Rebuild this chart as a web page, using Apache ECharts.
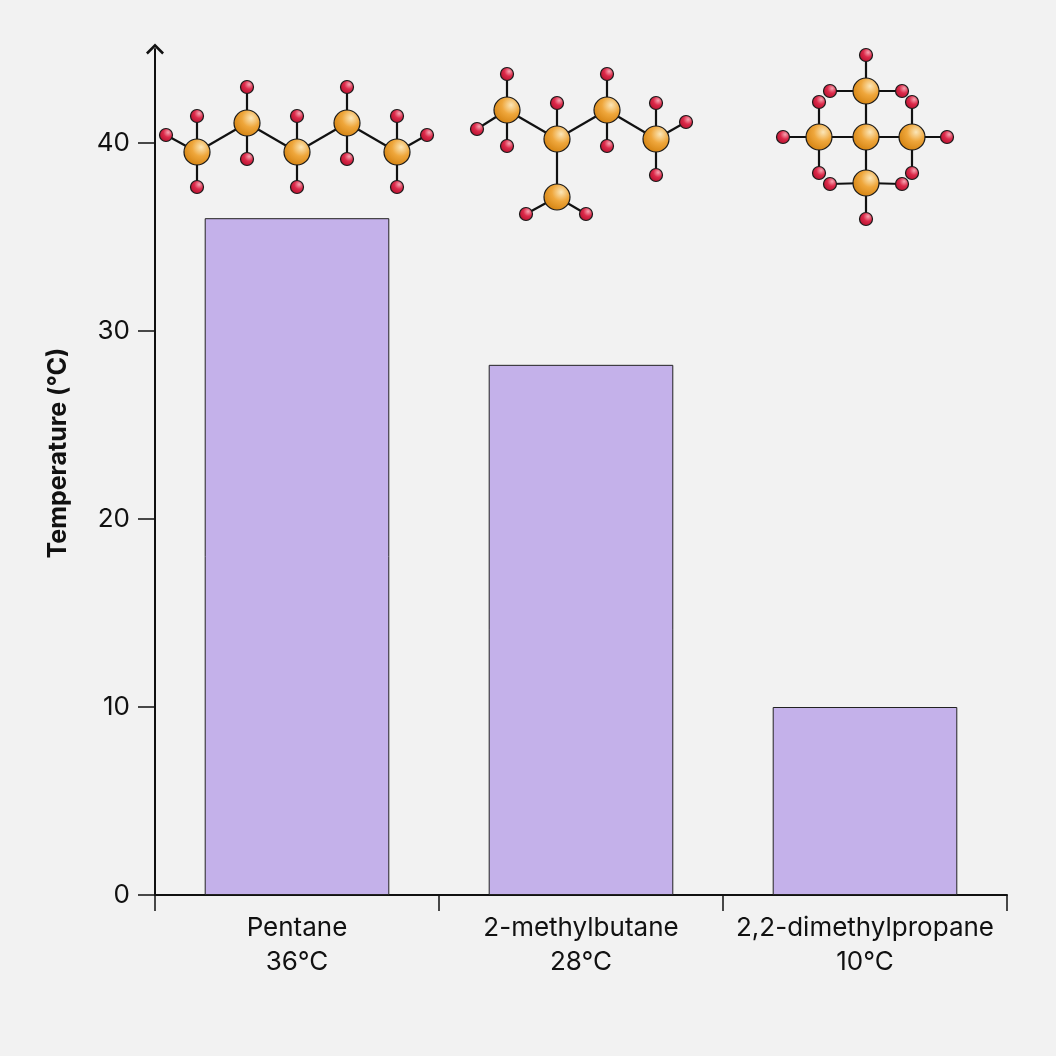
<!DOCTYPE html>
<html>
<head>
<meta charset="utf-8">
<script src="https://cdn.jsdelivr.net/npm/echarts@6/dist/echarts.min.js"></script>
<style>
  html, body { margin: 0; padding: 0; background: #f2f2f2; }
  #chart { width: 1056px; height: 1056px; }
</style>
</head>
<body>
<div id="chart"></div>
<script>
// boiling points of the C5H12 isomers
const compounds = ['Pentane', '2-methylbutane', '2,2-dimethylpropane'];
const boilingPoints = [36, 28.2, 10];
const boilingLabels = ['36°C', '28°C', '10°C'];
const yTicks = [0, 10, 20, 30, 40];

// ball-and-stick drawings, offsets in px from the category centre at y = 40
const moleculeAnchor = 40;
const moleculeCarbons = [
    [[-100, 9], [-50, -20], [0, 9], [50, -20], [100, 9]],
    [[-74, -33], [-24, -4], [26, -33], [75, -4], [-24, 54]],
    [[1, -6], [1, -52], [-46, -6], [47, -6], [1, 40]]
];
const moleculeCarbonBonds = [
    [[0, 1], [1, 2], [2, 3], [3, 4]],
    [[0, 1], [1, 2], [2, 3], [1, 4]],
    [[0, 1], [0, 2], [0, 3], [0, 4]]
];
// [dx, dy, carbon it is bonded to]
const moleculeHydrogens = [
    [[-131, -8, 0], [-100, -27, 0], [-100, 44, 0], [-50, -56, 1], [-50, 16, 1], [0, -27, 2],
     [0, 44, 2], [50, -56, 3], [50, 16, 3], [100, -27, 4], [100, 44, 4], [130, -8, 4]],
    [[-74, -69, 0], [-104, -14, 0], [-74, 3, 0], [-24, -40, 1], [26, -69, 2], [26, 3, 2],
     [75, -40, 3], [105, -21, 3], [75, 32, 3], [-55, 71, 4], [5, 71, 4]],
    [[1, -88, 1], [-35, -52, 1], [37, -52, 1], [-46, -41, 2], [-82, -6, 2], [-46, 30, 2],
     [47, -41, 3], [82, -6, 3], [47, 30, 3], [-35, 41, 4], [37, 41, 4], [1, 76, 4]]
];

const FONT = 'Inter';

const chart = echarts.init(document.getElementById('chart'));

function ball(x, y, r, light, mid, dark) {
    return {
        type: 'circle',
        shape: { cx: x, cy: y, r: r },
        style: {
            fill: new echarts.graphic.RadialGradient(0.65, 0.32, 0.75, [
                { offset: 0, color: light },
                { offset: 0.45, color: mid },
                { offset: 1, color: dark }
            ]),
            stroke: '#1a1a1a',
            lineWidth: 1.2
        }
    };
}

function renderMolecule(params, api) {
    const i = params.dataIndex;
    const p = api.coord([api.value(0), api.value(1)]);
    const carbons = moleculeCarbons[i].map(c => [p[0] + c[0], p[1] + c[1]]);
    const hydrogens = moleculeHydrogens[i].map(h => [p[0] + h[0], p[1] + h[1], h[2]]);
    const children = [];
    const bondStyle = { stroke: '#111', lineWidth: 2.2 };

    moleculeCarbonBonds[i].forEach(b => {
        children.push({
            type: 'line',
            shape: { x1: carbons[b[0]][0], y1: carbons[b[0]][1], x2: carbons[b[1]][0], y2: carbons[b[1]][1] },
            style: bondStyle
        });
    });
    hydrogens.forEach(h => {
        const c = carbons[h[2]];
        children.push({
            type: 'line',
            shape: { x1: h[0], y1: h[1], x2: c[0], y2: c[1] },
            style: bondStyle
        });
    });
    hydrogens.forEach(h => {
        children.push(ball(h[0], h[1], 6.5, '#f6a3b0', '#dc2a4a', '#b00f2c'));
    });
    carbons.forEach(c => {
        children.push(ball(c[0], c[1], 13, '#fbe6b8', '#efa73c', '#d2800e'));
    });
    return { type: 'group', children: children };
}

chart.setOption({
    backgroundColor: '#f2f2f2',
    animation: false,
    grid: { left: 155, right: 49, top: 49, bottom: 161 },
    xAxis: {
        type: 'category',
        data: compounds.map((c, i) => c + '\n' + boilingLabels[i]),
        axisLine: { lineStyle: { color: '#111', width: 2 } },
        axisTick: { show: true, length: 16, lineStyle: { color: '#111', width: 1.5 } },
        axisLabel: {
            interval: 0,
            color: '#111',
            fontFamily: FONT,
            fontSize: 26,
            lineHeight: 34,
            margin: 16
        }
    },
    yAxis: {
        type: 'value',
        min: 0,
        max: 45,
        interval: 10,
        name: 'Temperature (°C)',
        nameLocation: 'middle',
        nameGap: 84,
        nameTextStyle: {
            color: '#111',
            fontFamily: FONT,
            fontSize: 25,
            fontWeight: 'bold',
            padding: [0, 0, 0, 38]
        },
        splitLine: { show: false },
        axisLine: {
            show: true,
            symbol: ['none', 'path://M0,10 L10,0 L20,10 L18,12 L10,4 L2,12 Z'],
            symbolSize: [18, 11],
            lineStyle: { color: '#111', width: 2 }
        },
        axisTick: {
            show: true,
            length: 17,
            customValues: yTicks,
            lineStyle: { color: '#111', width: 1.5 }
        },
        axisLabel: {
            color: '#111',
            fontFamily: FONT,
            fontSize: 26,
            margin: 25,
            customValues: yTicks
        }
    },
    series: [
        {
            type: 'bar',
            data: boilingPoints,
            barWidth: '65%',
            itemStyle: { color: '#c4b1ea', borderColor: '#222', borderWidth: 1 }
        },
        {
            type: 'custom',
            z: 5,
            renderItem: renderMolecule,
            data: compounds.map((c, i) => [i, moleculeAnchor])
        }
    ]
});
</script>
</body>
</html>
